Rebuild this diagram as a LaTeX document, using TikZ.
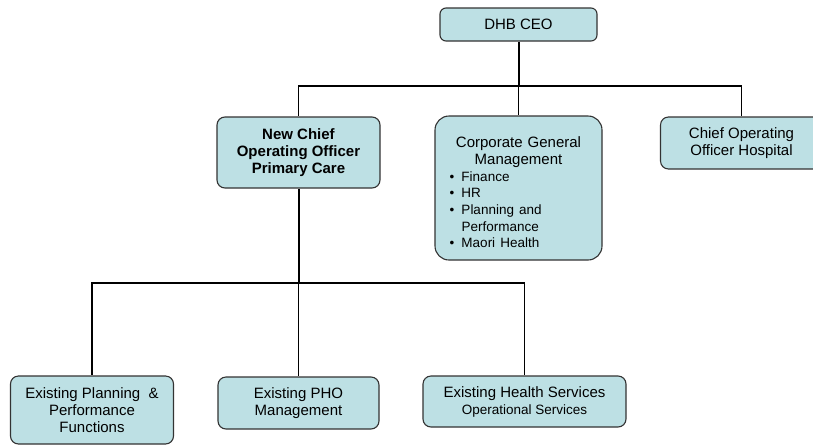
\documentclass[tikz,border=0pt]{standalone}
\usepackage{fontspec}
\setmainfont{Liberation Sans}
\definecolor{boxfill}{RGB}{189,224,228}
\newcommand{\bullitem}{\makebox[12pt][l]{\textbullet}}
\begin{document}
\begin{tikzpicture}[x=1pt,y=-1pt,
  unit/.style={draw=black!80, line width=1.1pt, fill=boxfill, rounded corners=8pt,
    align=center, inner sep=0pt, font=\fontsize{15}{17}\selectfont},
  link/.style={line width=1.1pt},
  trunk/.style={line width=2pt}]
\useasboundingbox (0,0) rectangle (813,445);
% top level
\node[unit, minimum width=157pt, minimum height=33pt, rounded corners=6pt] (ceo) at (518.5,24.5) {DHB CEO};
\node[unit, minimum width=163pt, minimum height=71pt, font=\fontsize{15}{17}\selectfont\bfseries] (newcoo) at (298.5,152.5)
  {New Chief\\Operating Officer\\Primary Care};
\node[unit, minimum width=167pt, minimum height=144pt, rounded corners=14pt, text width=150pt, align=left] (corp) at (518.5,188)
  {\rule{0pt}{19pt}\makebox[150pt]{Corporate General}\\\makebox[150pt]{Management}\\
   \hspace*{6pt}\parbox[t]{130pt}{\fontsize{13.5}{16.7}\selectfont\raggedright
   \bullitem Finance\\\bullitem HR\\\bullitem Planning and\\\hspace*{12pt}Performance\\\bullitem Maori Health}};
\node[unit, minimum width=162pt, minimum height=52pt] (cooh) at (741.5,143) {Chief Operating\\Officer Hospital};
% primary care units
\node[unit, minimum width=163pt, minimum height=68pt] (plan) at (92,410) {Existing Planning \ \&\\Performance\\Functions};
\node[unit, minimum width=161pt, minimum height=52pt] (pho) at (298.5,403) {Existing PHO\\Management};
\node[unit, minimum width=203pt, minimum height=51pt] (hs) at (524.5,401.5)
  {Existing Health Services\\{\fontsize{13.5}{16}\selectfont Operational Services}};
% connectors
\coordinate (topbus) at (518.5,86);
\draw[trunk] (ceo.south) -- (topbus);
\draw[link] (topbus) -| (newcoo.north);
\draw[link] (topbus) -- (corp.north);
\draw[link] (topbus) -| (cooh.north);
\coordinate (lowbus) at (298.5,283);
\draw[trunk] (newcoo.south) -- (lowbus);
\draw[link] (lowbus) -| (plan.north);
\draw[link] (lowbus) -- (pho.north);
\draw[link] (lowbus) -| (hs.north);
\end{tikzpicture}
\end{document}
